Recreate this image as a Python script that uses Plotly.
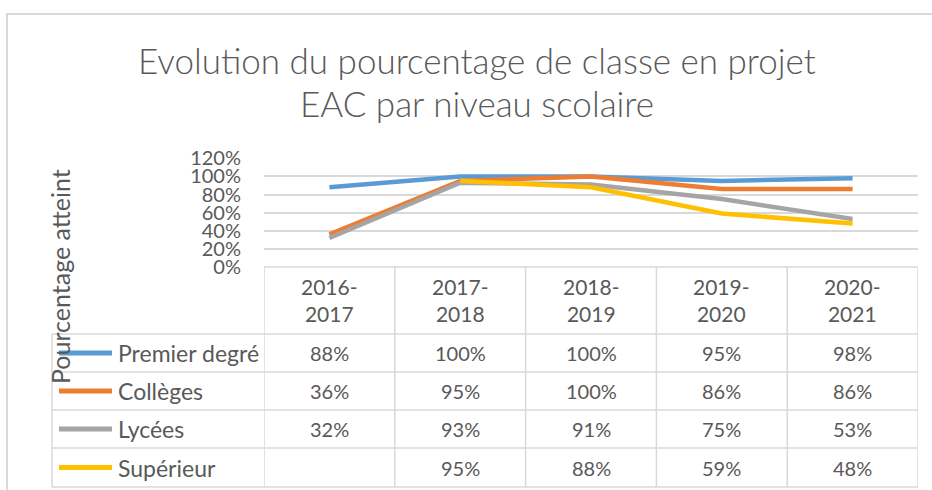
import plotly.graph_objects as go

categories = ["2016-2017", "2017-2018", "2018-2019", "2019-2020", "2020-2021"]
cat_labels = ["2016-<br>2017", "2017-<br>2018", "2018-<br>2019", "2019-<br>2020", "2020-<br>2021"]
series_names = ["Premier degré", "Collèges", "Lycées", "Supérieur"]
premier = [0.88, 1.00, 1.00, 0.95, 0.98]
colleges = [0.36, 0.95, 1.00, 0.86, 0.86]
lycees = [0.32, 0.93, 0.91, 0.75, 0.53]
superieur = [None, 0.95, 0.88, 0.59, 0.48]
series_values = [premier, colleges, lycees, superieur]
colors = ["#5B9BD5", "#ED7D31", "#A5A5A5", "#FFC000"]
y_ticks = [0, 0.2, 0.4, 0.6, 0.8, 1.0, 1.2]

W, H = 932, 490
FONT = "Lato"
TXT = "#595959"
GRID = "#D9D9D9"

def px(x):
    return x / W

def py(y):
    return 1 - y / H

x_idx = list(range(len(categories)))

fig = go.Figure()
for name, vals, col in zip(series_names, series_values, colors):
    fig.add_trace(go.Scatter(x=x_idx, y=vals, mode="lines", name=name,
                             line=dict(color=col, width=4.5), connectgaps=False,
                             showlegend=False))

# table geometry (pixels)
table_top = 267
header_bot = 334
row_bounds = [334, 372, 410, 448, 487]
left_px = 52
plot_l, plot_r = 264, 918

shapes = []
shapes.append(dict(type="path", xref="paper", yref="paper",
                   path=f"M {px(7)},{py(492)} L {px(7)},{py(14)} L {px(934)},{py(14)}",
                   line=dict(color=GRID, width=2)))
shapes.append(dict(type="line", xref="paper", yref="paper", x0=px(plot_l), x1=px(plot_r),
                   y0=py(table_top), y1=py(table_top), line=dict(color=GRID, width=1.5)))
for yb in row_bounds:
    shapes.append(dict(type="line", xref="paper", yref="paper", x0=px(left_px), x1=px(plot_r),
                       y0=py(yb), y1=py(yb), line=dict(color=GRID, width=1.5)))
for i in range(len(categories) + 1):
    shapes.append(dict(type="line", xref="x", yref="paper", x0=i - 0.5, x1=i - 0.5,
                       y0=py(table_top), y1=py(row_bounds[-1]), line=dict(color=GRID, width=1.5)))
shapes.append(dict(type="line", xref="paper", yref="paper", x0=px(left_px), x1=px(left_px),
                   y0=py(header_bot), y1=py(row_bounds[-1]), line=dict(color=GRID, width=1.5)))

annotations = []
title_font = dict(family=FONT, size=35, color=TXT, weight=300)
annotations.append(dict(text="Evolution du pourcentage de classe en projet", xref="paper", yref="paper",
                        x=px(477), y=py(60), showarrow=False, xanchor="center", yanchor="middle",
                        font=title_font))
annotations.append(dict(text="EAC par niveau scolaire", xref="paper", yref="paper",
                        x=px(477), y=py(103), showarrow=False, xanchor="center", yanchor="middle",
                        font=title_font))
annotations.append(dict(text="Pourcentage atteint", xref="paper", yref="paper", x=px(60), y=py(277),
                        textangle=-90, showarrow=False, xanchor="center", yanchor="middle",
                        font=dict(family=FONT, size=25, color=TXT)))
for i, lab in enumerate(cat_labels):
    annotations.append(dict(text=lab, xref="x", yref="paper", x=i, y=py(300), showarrow=False,
                            xanchor="center", yanchor="middle",
                            font=dict(family=FONT, size=21, color=TXT)))
for r, (name, vals, col) in enumerate(zip(series_names, series_values, colors)):
    yc = (row_bounds[r] + row_bounds[r + 1]) / 2
    shapes.append(dict(type="line", xref="paper", yref="paper", x0=px(59), x1=px(112),
                       y0=py(yc), y1=py(yc), line=dict(color=col, width=5)))
    annotations.append(dict(text=name, xref="paper", yref="paper", x=px(116), y=py(yc),
                            showarrow=False, xanchor="left", yanchor="middle",
                            font=dict(family=FONT, size=23, color=TXT)))
    for i, v in enumerate(vals):
        if v is None:
            continue
        annotations.append(dict(text=f"{round(v*100)}%", xref="x", yref="paper", x=i, y=py(yc),
                                showarrow=False, xanchor="center", yanchor="middle",
                                font=dict(family=FONT, size=20, color=TXT)))

fig.update_layout(
    width=W, height=H,
    margin=dict(l=0, r=0, t=0, b=0, autoexpand=False),
    paper_bgcolor="white", plot_bgcolor="white",
    shapes=shapes, annotations=annotations,
    xaxis=dict(domain=[px(plot_l), px(plot_r)], range=[-0.5, 4.5], showgrid=False,
               showticklabels=False, zeroline=False, showline=False, fixedrange=True,
               automargin=False),
    yaxis=dict(domain=[py(267), py(158.3)], range=[0, 1.2], tickvals=y_ticks,
               tickformat=".0%", showgrid=True, gridcolor=GRID, gridwidth=1.5,
               zeroline=False, showline=False, ticks="", ticklabelstandoff=22,
               tickfont=dict(family=FONT, size=20, color=TXT), fixedrange=True,
               automargin=False),
    showlegend=False,
)

fig.write_html("out.html", config={"displayModeBar": False},
               post_script="document.body.style.margin='0';document.body.style.overflow='hidden';")
